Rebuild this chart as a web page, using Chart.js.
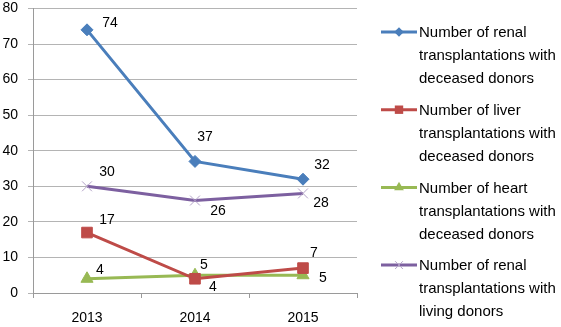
<!DOCTYPE html>
<html lang="en">
<head>
    <meta charset="UTF-8">
    <title>transplantations</title>
    <style type="text/css">
        body{ margin: 0; background: #fff; }
        .chartbox{ width: 561px; height: 327px; }
    </style>
    <script src="https://cdn.jsdelivr.net/npm/chart.js@4.4.0/dist/chart.umd.min.js"></script>
</head>
<body>
    <div class="chartbox">
        <canvas id="myChart" width="561" height="327"></canvas>
    </div>

    <script>
    // data block
    const years = ['2013', '2014', '2015'];
    const renalDeceased = [74, 37, 32];
    const liverDeceased = [17, 4, 7];
    const heartDeceased = [4, 5, 5];
    const renalLiving = [30, 26, 28];
    const yTicks = [0, 10, 20, 30, 40, 50, 60, 70, 80];

    const legendLabels = [
        ['Number of renal', 'transplantations with', 'deceased donors'],
        ['Number of liver', 'transplantations with', 'deceased donors'],
        ['Number of heart', 'transplantations with', 'deceased donors'],
        ['Number of renal', 'transplantations with', 'living donors']
    ];

    // where each value label sits relative to its point (dx, dy)
    const labelOffsets = [
        [[23, -7], [10, -24], [19, -14]],
        [[20, -12], [18, 8], [11, -15]],
        [[13, -9], [9, -10], [20, 3]],
        [[20, -14], [23, 11], [18, 10]]
    ];

    const FONT = '"Liberation Sans", Arial, sans-serif';

    function drawMarker(ctx, style, x, y, r, fill, stroke) {
        ctx.save();
        ctx.fillStyle = fill;
        ctx.strokeStyle = stroke;
        ctx.lineWidth = 1;
        ctx.beginPath();
        if (style === 'rectRot') {
            ctx.moveTo(x, y - r); ctx.lineTo(x + r, y); ctx.lineTo(x, y + r); ctx.lineTo(x - r, y);
            ctx.closePath(); ctx.fill();
        } else if (style === 'rect') {
            ctx.rect(x - r * 0.7, y - r * 0.7, r * 1.4, r * 1.4); ctx.fill();
        } else if (style === 'triangle') {
            ctx.moveTo(x, y - r); ctx.lineTo(x + r * 0.87, y + r * 0.5); ctx.lineTo(x - r * 0.87, y + r * 0.5);
            ctx.closePath(); ctx.fill();
        } else {
            ctx.moveTo(x - r * 0.7, y - r * 0.7); ctx.lineTo(x + r * 0.7, y + r * 0.7);
            ctx.moveTo(x + r * 0.7, y - r * 0.7); ctx.lineTo(x - r * 0.7, y + r * 0.7);
            ctx.stroke();
        }
        ctx.restore();
    }

    // value labels next to the points
    const valueLabels = {
        id: 'valueLabels',
        afterDatasetsDraw(chart) {
            const ctx = chart.ctx;
            ctx.save();
            ctx.font = '14px ' + FONT;
            ctx.fillStyle = '#000';
            ctx.textAlign = 'center';
            ctx.textBaseline = 'middle';
            chart.data.datasets.forEach((ds, i) => {
                chart.getDatasetMeta(i).data.forEach((pt, j) => {
                    const off = labelOffsets[i][j];
                    ctx.fillText(ds.data[j], pt.x + off[0], pt.y + off[1]);
                });
            });
            ctx.restore();
        }
    };

    // legend on the right, wrapped like excel
    const sideLegend = {
        id: 'sideLegend',
        afterDraw(chart) {
            const ctx = chart.ctx;
            ctx.save();
            chart.data.datasets.forEach((ds, i) => {
                const top = 33 + i * 77.7;
                ctx.strokeStyle = ds.borderColor;
                ctx.lineWidth = 3;
                ctx.beginPath();
                ctx.moveTo(381, top - 1);
                ctx.lineTo(417, top - 1);
                ctx.stroke();
                drawMarker(ctx, ds.pointStyle, 399, top - 1, ds.pointRadius * 0.8,
                    ds.pointBackgroundColor, ds.pointBorderColor);
                ctx.font = '15px ' + FONT;
                ctx.fillStyle = '#000';
                ctx.textAlign = 'left';
                ctx.textBaseline = 'middle';
                legendLabels[i].forEach((line, k) => {
                    ctx.fillText(line, 419, top + k * 23);
                });
            });
            ctx.restore();
        }
    };

    const data = {
        labels: years,
        datasets: [{
            label: legendLabels[0].join(' '),
            data: renalDeceased,
            borderColor: '#4a7ebb',
            pointBackgroundColor: '#4a7ebb',
            pointBorderColor: '#4a7ebb',
            pointStyle: 'rectRot',
            pointRadius: 6
        }, {
            label: legendLabels[1].join(' '),
            data: liverDeceased,
            borderColor: '#be4b48',
            pointBackgroundColor: '#be4b48',
            pointBorderColor: '#be4b48',
            pointStyle: 'rect',
            pointRadius: 7.5
        }, {
            label: legendLabels[2].join(' '),
            data: heartDeceased,
            borderColor: '#98b954',
            pointBackgroundColor: '#98b954',
            pointBorderColor: '#98b954',
            pointStyle: 'triangle',
            pointRadius: 7
        }, {
            label: legendLabels[3].join(' '),
            data: renalLiving,
            borderColor: '#7d60a0',
            pointBackgroundColor: '#b3a2c7',
            pointBorderColor: '#b3a2c7',
            pointStyle: 'crossRot',
            pointRadius: 7
        }]
    };
    data.datasets.forEach(ds => {
        ds.borderWidth = 3;
        ds.pointBorderWidth = 1;
        ds.tension = 0;
        ds.fill = false;
    });

    const config = {
        type: 'line',
        data,
        options: {
            responsive: false,
            animation: false,
            layout: {
                padding: { left: 0, right: 204, top: 0, bottom: 0 }
            },
            plugins: {
                legend: { display: false },
                tooltip: { enabled: false }
            },
            scales: {
                x: {
                    offset: true,
                    afterFit: axis => { axis.height = 34; },
                    grid: {
                        offset: true,
                        drawOnChartArea: false,
                        tickLength: 5,
                        color: '#9a9a9a'
                    },
                    border: { color: '#9a9a9a' },
                    ticks: {
                        padding: 12,
                        color: '#000',
                        font: { family: FONT, size: 14 },
                        maxRotation: 0
                    }
                },
                y: {
                    min: 0,
                    max: 80,
                    afterFit: axis => { axis.width = 33; axis.paddingTop = 0; },
                    afterBuildTicks: axis => { axis.ticks = yTicks.map(v => ({ value: v })); },
                    grid: {
                        color: '#b4b4b4',
                        tickLength: 5
                    },
                    border: { color: '#9a9a9a' },
                    ticks: {
                        padding: 10,
                        color: '#000',
                        font: { family: FONT, size: 14 }
                    }
                }
            }
        },
        plugins: [valueLabels, sideLegend]
    };

    const myChart = new Chart(document.getElementById('myChart'), config);
    console.log(JSON.stringify(myChart.chartArea));
    </script>
</body>
</html>
